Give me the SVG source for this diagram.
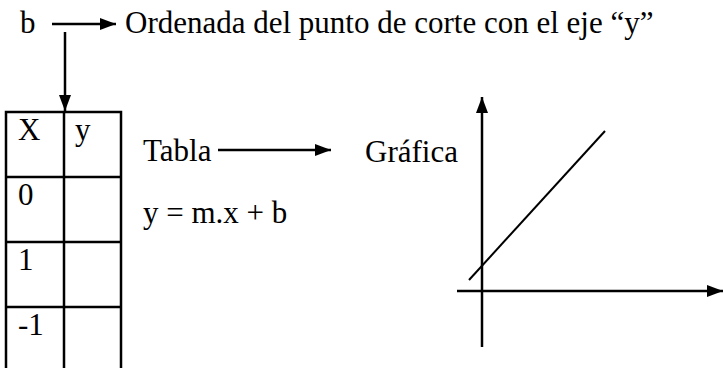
<svg xmlns="http://www.w3.org/2000/svg" width="723" height="368" viewBox="0 0 723 368">
<style>
text{font-family:"Liberation Serif","Times New Roman","DejaVu Serif",serif;font-size:31px;fill:#000}
.ln{stroke:#000;stroke-width:2.5;fill:none}
.thin{stroke:#000;stroke-width:2;fill:none}
</style>
<defs>
<marker id="ah" viewBox="0 0 16 12" refX="16" refY="6" markerWidth="16" markerHeight="12" markerUnits="userSpaceOnUse" orient="auto">
<path d="M0,0 L16,6 L0,12 Z" fill="#000"/>
</marker>
</defs>
<rect width="723" height="368" fill="#fff"/>
<g id="b-label"><text x="20" y="33">b</text></g>
<g id="ordenada"><text x="125" y="33">Ordenada del punto de corte con el eje “y”</text></g>
<g id="tabla-grid">
<rect x="6" y="112" width="115" height="262" class="ln"/>
<line x1="64" y1="112" x2="64" y2="374" class="ln"/>
<line x1="6" y1="177" x2="121" y2="177" class="ln"/>
<line x1="6" y1="242" x2="121" y2="242" class="ln"/>
<line x1="6" y1="307" x2="121" y2="307" class="ln"/>
<text x="18" y="140">X</text>
<text x="75" y="140">y</text>
<text x="18" y="205">0</text>
<text x="18" y="270">1</text>
<text x="18" y="335">-1</text>
</g>
<g id="tabla"><text x="143" y="161">Tabla</text></g>
<g id="ecuacion"><text x="143" y="223">y = m.x + b</text></g>
<g id="grafica"><text x="365" y="162">Gráfica</text></g>
<g id="plot">
<line x1="482" y1="347" x2="482" y2="97" class="ln" marker-end="url(#ah)"/>
<line x1="457" y1="291" x2="723" y2="291" class="ln" marker-end="url(#ah)"/>
<line x1="469" y1="280" x2="605" y2="131" class="thin"/>
</g>
<g id="connectors">
<line x1="52" y1="24" x2="116" y2="24" class="ln" marker-end="url(#ah)"/>
<line x1="65" y1="32" x2="65" y2="111" class="ln" marker-end="url(#ah)"/>
<line x1="218" y1="150" x2="331" y2="150" class="ln" marker-end="url(#ah)"/>
</g>
</svg>
